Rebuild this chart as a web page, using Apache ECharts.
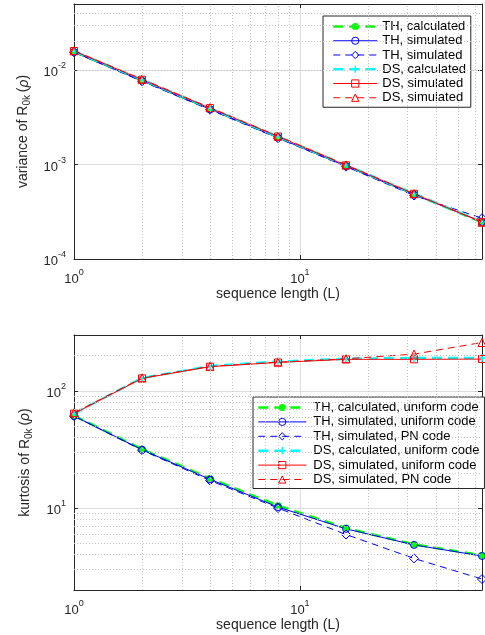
<!DOCTYPE html>
<html><head><meta charset="utf-8">
<script src="https://cdn.jsdelivr.net/npm/echarts@6/dist/echarts.min.js"></script>
<style>html,body{margin:0;padding:0;background:#fff}#c{width:485px;height:635px}</style>
</head><body><div id="c"></div>
<script>
// ---- data ----
const seqLen = [1, 2, 4, 8, 16, 32, 64];
// variance of R0k(rho)
const thCalcVar = [0.0156, 0.0078, 0.0039, 0.00195, 0.000977, 0.000488, 0.000244];
const thSimVar  = [0.0155, 0.0077, 0.00385, 0.00192, 0.00096, 0.00048, 0.000248];
const thPnVar   = [0.0154, 0.0076, 0.0038, 0.0019, 0.00095, 0.00047, 0.00027];
const dsCalcVar = [0.0158, 0.0079, 0.00393, 0.00197, 0.00098, 0.00049, 0.000246];
const dsSimVar  = [0.0159, 0.0079, 0.00395, 0.00198, 0.00098, 0.00049, 0.000245];
const dsPnVar   = [0.0160, 0.0080, 0.0040, 0.0020, 0.00099, 0.00049, 0.000245];
// kurtosis of R0k(rho)
const thCalcKurt = [61.5, 31.8, 17.9, 10.5, 6.75, 4.9, 3.95];
const thSimKurt  = [61, 31.5, 17.6, 10.2, 6.65, 4.85, 3.9];
const thPnKurt   = [61, 31.2, 17.2, 10.0, 5.95, 3.72, 2.48];
const dsCalcKurt = [64, 129, 163, 178, 188, 191, 191];
const dsSimKurt  = [64, 128, 161, 175, 186, 186, 187];
const dsPnKurt   = [65, 129, 162, 176, 188, 206, 259];
// legend names
const topNames = ['TH, calculated', 'TH, simulated', 'TH, simulated ', 'DS, calculated', 'DS, simulated', 'DS, simulated '];
const botNames = ['TH, calculated, uniform code', 'TH, simulated, uniform code', 'TH, simulated, PN code',
                  'DS, calculated, uniform code', 'DS, simulated, uniform code', 'DS, simulated, PN code'];
// axis ranges and minor grid positions
const xRange = [1, 64];
const varRange = [1e-4, 0.05];
const kurtRange = [2, 300];
const xMinor = [2, 3, 4, 5, 6, 7, 8, 9, 20, 30, 40, 50, 60];
const varMinor = [2e-4, 3e-4, 4e-4, 5e-4, 6e-4, 7e-4, 8e-4, 9e-4, 2e-3, 3e-3, 4e-3, 5e-3, 6e-3, 7e-3, 8e-3, 9e-3, 2e-2, 3e-2, 4e-2];
const kurtMinor = [3, 4, 5, 6, 7, 8, 9, 20, 30, 40, 50, 60, 70, 80, 90, 200];

const FONT = 'Liberation Sans, Arial, Helvetica, sans-serif';
const TXT = '#262626';

function powLabel(v) {
  const e = Math.log10(v);
  const r = Math.round(e);
  if (Math.abs(e - r) > 1e-6) return '';
  return '{b|10}{s|' + r + '}';
}
const tickRich = {
  b: { fontSize: 13, fontFamily: FONT, color: TXT, padding: [5, 0, 0, 0] },
  s: { fontSize: 9, fontFamily: FONT, color: TXT, padding: [0, 0, 9, 0] }
};
const nameRich = {
  n: { fontSize: 14, fontFamily: FONT, color: TXT },
  sub: { fontSize: 10, fontFamily: FONT, color: TXT, padding: [8, 0, 0, 0] },
  i: { fontSize: 14, fontFamily: FONT, color: TXT, fontStyle: 'italic' }
};

function mainX(gi) {
  return {
    type: 'log', gridIndex: gi, min: xRange[0], max: xRange[1], position: 'bottom',
    name: 'sequence length (L)', nameLocation: 'middle', nameGap: 26,
    nameTextStyle: { fontSize: 14, fontFamily: FONT, color: TXT },
    axisLine: { show: true, onZero: false, lineStyle: { color: TXT, width: 1 } },
    axisTick: { show: true, inside: true, length: 4, lineStyle: { color: TXT } },
    axisLabel: { formatter: powLabel, rich: tickRich, margin: 9, showMaxLabel: false },
    splitLine: { show: true, lineStyle: { color: '#dedede', width: 1 } }
  };
}
function boxX(gi) {
  return {
    type: 'log', gridIndex: gi, min: xRange[0], max: xRange[1], position: 'top',
    axisLine: { show: true, onZero: false, lineStyle: { color: TXT, width: 1 } },
    axisTick: { show: true, inside: true, length: 4, lineStyle: { color: TXT } },
    axisLabel: { show: false }, splitLine: { show: false }
  };
}
function mainY(gi, range, nameStr) {
  return {
    type: 'log', gridIndex: gi, min: range[0], max: range[1], position: 'left',
    name: nameStr, nameLocation: 'middle', nameGap: 40,
    nameTextStyle: { rich: nameRich },
    axisLine: { show: true, onZero: false, lineStyle: { color: TXT, width: 1 } },
    axisTick: { show: true, inside: true, length: 4, lineStyle: { color: TXT } },
    axisLabel: { formatter: powLabel, rich: tickRich, margin: 8, showMaxLabel: false, showMinLabel: true },
    splitLine: { show: true, lineStyle: { color: '#dedede', width: 1 } }
  };
}
function boxY(gi, range) {
  return {
    type: 'log', gridIndex: gi, min: range[0], max: range[1], position: 'right',
    axisLine: { show: true, onZero: false, lineStyle: { color: TXT, width: 1 } },
    axisTick: { show: true, inside: true, length: 4, lineStyle: { color: TXT } },
    axisLabel: { show: false }, splitLine: { show: false }
  };
}

const crossPath = 'path://M4,0h2v4h4v2h-4v4h-2v-4h-4v-2h4z';
const styles = [
  { line: { color: '#00ff00', width: 2.5, type: [10, 6] }, symbol: 'circle', size: 7, item: { color: '#00ff00' } },
  { line: { color: '#0000ff', width: 1, type: 'solid' }, symbol: 'circle', size: 7, item: { color: 'rgba(255,255,255,0)', borderColor: '#0000ff', borderWidth: 1 } },
  { line: { color: '#0000ff', width: 1, type: [7, 5] }, symbol: 'diamond', size: 9, item: { color: 'rgba(255,255,255,0)', borderColor: '#0000ff', borderWidth: 1 } },
  { line: { color: '#00ffff', width: 2.5, type: [10, 6] }, symbol: crossPath, size: 8, item: { color: '#00ffff' } },
  { line: { color: '#ff0000', width: 1, type: 'solid' }, symbol: 'rect', size: 7, item: { color: 'rgba(255,255,255,0)', borderColor: '#ff0000', borderWidth: 1 } },
  { line: { color: '#ff0000', width: 1, type: [7, 5] }, symbol: 'triangle', size: 8, item: { color: 'rgba(255,255,255,0)', borderColor: '#ff0000', borderWidth: 1 } }
];

function mk(name, vals, st, xi, yi) {
  return {
    type: 'line', name: name, xAxisIndex: xi, yAxisIndex: yi, z: 3,
    data: seqLen.map((x, k) => [x, vals[k]]),
    symbol: st.symbol, symbolSize: st.size, showSymbol: true,
    lineStyle: st.line, itemStyle: st.item, color: st.line.color,
    emphasis: { disabled: true }, animation: false
  };
}
function gridSeries(xi, yi, xs, ys) {
  return {
    type: 'line', name: 'minor-grid-' + xi, xAxisIndex: xi, yAxisIndex: yi, z: 1, data: [],
    markLine: {
      silent: true, symbol: 'none', animation: false, label: { show: false },
      lineStyle: { color: '#c4c4c4', type: [1, 2], width: 1 },
      emphasis: { disabled: true },
      data: xs.map(v => ({ xAxis: v })).concat(ys.map(v => ({ yAxis: v })))
    }
  };
}

const topSets = [thCalcVar, thSimVar, thPnVar, dsCalcVar, dsSimVar, dsPnVar];
const botSets = [thCalcKurt, thSimKurt, thPnKurt, dsCalcKurt, dsSimKurt, dsPnKurt];
const series = [gridSeries(0, 0, xMinor, varMinor), gridSeries(2, 2, xMinor, kurtMinor)];
topSets.forEach((d, k) => series.push(mk(topNames[k], d, styles[k], 0, 0)));
botSets.forEach((d, k) => series.push(mk(botNames[k], d, styles[k], 2, 2)));

const legendText = { fontSize: 13, fontFamily: FONT, color: '#000', lineHeight: 14 };
const legendCommon = {
  orient: 'vertical', selectedMode: false, itemHeight: 9,
  backgroundColor: '#fff', borderColor: TXT, borderWidth: 1, borderRadius: 0,
  lineStyle: { width: 'inherit', type: 'inherit' },
  itemStyle: { borderWidth: 'inherit' }
};
const option = {
  animation: false,
  backgroundColor: '#fff',
  grid: [
    { left: 74, top: 4, width: 408, height: 255 },
    { left: 74, top: 335, width: 408, height: 255 }
  ],
  xAxis: [mainX(0), boxX(0), mainX(1), boxX(1)],
  yAxis: [
    mainY(0, varRange, '{n|variance of R}{sub|0k}{n|\u2009(}{i|\u03c1}{n|)}'), boxY(0, varRange),
    mainY(1, kurtRange, '{n|kurtosis of R}{sub|0k}{n|\u2009(}{i|\u03c1}{n|)}'), boxY(1, kurtRange)
  ],
  legend: [
    Object.assign({}, legendCommon, {
      data: topNames, left: 323, top: 16,
      itemWidth: 44, itemGap: 0.25, padding: [3.5, 4, 2.5, 9],
      textStyle: Object.assign({ padding: [0, 0, 0, 0] }, legendText)
    }),
    Object.assign({}, legendCommon, {
      data: botNames, left: 253, top: 397,
      itemWidth: 48, itemGap: 0.4, padding: [3.5, 5, 2, 4],
      textStyle: Object.assign({ padding: [0, 0, 0, 2] }, legendText)
    })
  ],
  series: series
};
const chart = echarts.init(document.getElementById('c'), null, { renderer: 'canvas' });
chart.setOption(option);
</script></body></html>
